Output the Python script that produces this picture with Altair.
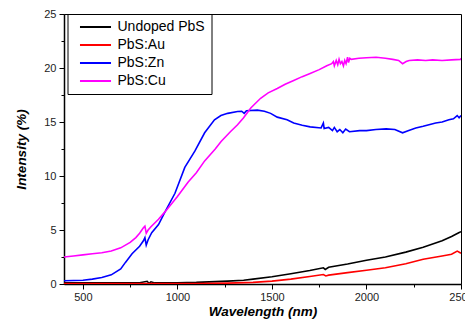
import altair as alt
import pandas as pd

series_names = ["Undoped PbS", "PbS:Au", "PbS:Zn", "PbS:Cu"]
series_colors = ["#000000", "#FF0000", "#0000FF", "#FF00FF"]

undoped_wl = [400, 600, 800, 840, 850, 860, 880, 1000, 1100, 1200, 1266, 1350, 1400, 1500, 1600,
              1700, 1772, 1782, 1800, 1900, 2000, 2100, 2208, 2300, 2400, 2450, 2488, 2500]
undoped_val = [0.1, 0.1, 0.12, 0.25, 0.05, 0.2, 0.1, 0.12, 0.15, 0.22, 0.27, 0.35, 0.45, 0.67, 0.95,
               1.25, 1.5, 1.35, 1.55, 1.85, 2.2, 2.5, 2.95, 3.4, 4.0, 4.4, 4.75, 4.85]

au_wl = [400, 800, 1000, 1100, 1266, 1400, 1500, 1600, 1700, 1772, 1785, 1800, 1900, 2000,
         2100, 2208, 2300, 2400, 2450, 2480, 2500]
au_val = [0.05, 0.05, 0.04, 0.04, 0.08, 0.15, 0.27, 0.45, 0.7, 0.88, 0.75, 0.82, 1.05, 1.27,
          1.5, 1.88, 2.3, 2.6, 2.75, 3.05, 2.85]

zn_wl = [400, 450, 500, 550, 600, 650, 700, 725, 760, 800, 820, 828, 835, 845, 864, 900, 935,
         987, 1039, 1092, 1144, 1196, 1230, 1266, 1318, 1340, 1353, 1365, 1423, 1460, 1493, 1528,
         1580, 1615, 1660, 1702, 1760, 1772, 1776, 1800, 1820, 1830, 1845, 1859, 1875, 1890, 1910,
         1964, 2000, 2050, 2104, 2150, 2191, 2220, 2261, 2300, 2366, 2400, 2436, 2460, 2480, 2490, 2500]
zn_val = [0.3, 0.32, 0.35, 0.45, 0.6, 0.85, 1.4, 2.0, 2.8, 3.5, 4.0, 4.3, 3.6, 4.1, 4.75, 5.5, 6.7,
          8.4, 10.8, 12.3, 14.0, 15.2, 15.6, 15.8, 15.97, 16.0, 15.8, 16.05, 16.1, 16.0, 15.8, 15.45,
          15.2, 14.9, 14.7, 14.55, 14.45, 14.9, 14.4, 14.5, 14.2, 14.5, 14.1, 14.3, 14.0, 14.35, 14.1,
          14.2, 14.2, 14.3, 14.36, 14.3, 14.0, 14.2, 14.45, 14.6, 14.9, 15.0, 15.2, 15.3, 15.6, 15.4, 15.6]

cu_wl = [400, 450, 500, 550, 600, 650, 700, 750, 780, 800, 820, 828, 835, 845, 860, 900, 935,
         1000, 1057, 1100, 1144, 1200, 1231, 1280, 1318, 1350, 1388, 1440, 1480, 1528, 1570, 1615,
         1660, 1702, 1750, 1790, 1816, 1825, 1830, 1840, 1848, 1855, 1862, 1870, 1878, 1885, 1892,
         1900, 1905, 1912, 1920, 1960, 2000, 2051, 2100, 2139, 2170, 2191, 2210, 2226, 2270, 2313,
         2350, 2400, 2450, 2497, 2500]
cu_val = [2.5, 2.6, 2.7, 2.8, 2.9, 3.05, 3.35, 3.85, 4.3, 4.7, 5.2, 5.35, 4.7, 5.0, 5.3, 6.0, 6.7,
          8.1, 9.45, 10.3, 11.4, 12.5, 13.2, 14.1, 14.75, 15.4, 16.3, 17.2, 17.7, 18.1, 18.5, 18.85,
          19.2, 19.5, 19.85, 20.2, 20.4, 20.6, 20.2, 20.7, 20.3, 20.8, 20.4, 20.6, 20.2, 20.7, 20.4,
          21.0, 20.5, 20.9, 20.8, 20.9, 20.95, 21.0, 20.9, 20.8, 20.7, 20.4, 20.6, 20.7, 20.75, 20.7,
          20.75, 20.7, 20.75, 20.8, 20.9]

x_ticks = [500, 750, 1000, 1250, 1500, 1750, 2000, 2250, 2500]
y_ticks = [0, 2.5, 5, 7.5, 10, 12.5, 15, 17.5, 20, 22.5, 25]

rows = []
for name, wl, val in [
    ("Undoped PbS", undoped_wl, undoped_val),
    ("PbS:Au", au_wl, au_val),
    ("PbS:Zn", zn_wl, zn_val),
    ("PbS:Cu", cu_wl, cu_val),
]:
    for i, (w, v) in enumerate(zip(wl, val)):
        rows.append({"series": name, "wl": w, "val": v, "order": i})
df = pd.DataFrame(rows)

font = "Liberation Sans"

chart = alt.Chart(df).mark_line(strokeWidth=1.6, clip=True).encode(
    x=alt.X("wl:Q", scale=alt.Scale(domain=[400, 2500], nice=False, zero=False),
            axis=alt.Axis(values=x_ticks, title="Wavelength (nm)", grid=False, format="d",
                          labelExpr="datum.value % 500 === 0 ? datum.label : ''",
                          tickSize={"condition": {"test": "datum.value % 500 === 0", "value": 5}, "value": 3},
                          labelPadding=2, titlePadding=2, labelFlush=False)),
    y=alt.Y("val:Q", scale=alt.Scale(domain=[0, 25], nice=False),
            axis=alt.Axis(values=y_ticks, title="Intensity (%)", grid=False,
                          labelExpr="datum.value % 5 === 0 ? datum.label : ''",
                          tickSize={"condition": {"test": "datum.value % 5 === 0", "value": 5}, "value": 3},
                          labelPadding=3, titlePadding=15)),
    color=alt.Color("series:N", scale=alt.Scale(domain=series_names, range=series_colors),
                    sort=series_names,
                    legend=alt.Legend(title=None, orient="none", legendX=3.5, legendY=0,
                                      strokeColor="black", fillColor="white", padding=6,
                                      symbolType="M-3,0H3", symbolSize=107, symbolStrokeWidth=2,
                                      symbolOffset=15, labelOffset=15, labelFontSize=14,
                                      labelFont=font, labelColor="black", rowPadding=4,
                                      cornerRadius=0)),
    order="order:Q",
    detail="series:N",
).properties(
    width=397, height=270,
    autosize=alt.AutoSizeParams(type="none"),
    padding={"left": 56, "top": 6, "right": 4, "bottom": 38},
).configure_view(
    stroke="black", strokeWidth=1
).configure_axis(
    domainColor="black", domainWidth=1.5, tickColor="black", tickWidth=1,
    labelFont=font, labelFontSize=11, labelColor="#222222",
    titleFont=font, titleFontSize=13.5, titleFontWeight="bold", titleFontStyle="italic",
    titleColor="black"
)

chart.save("out.html", embed_options={"renderer": "svg", "actions": False})
